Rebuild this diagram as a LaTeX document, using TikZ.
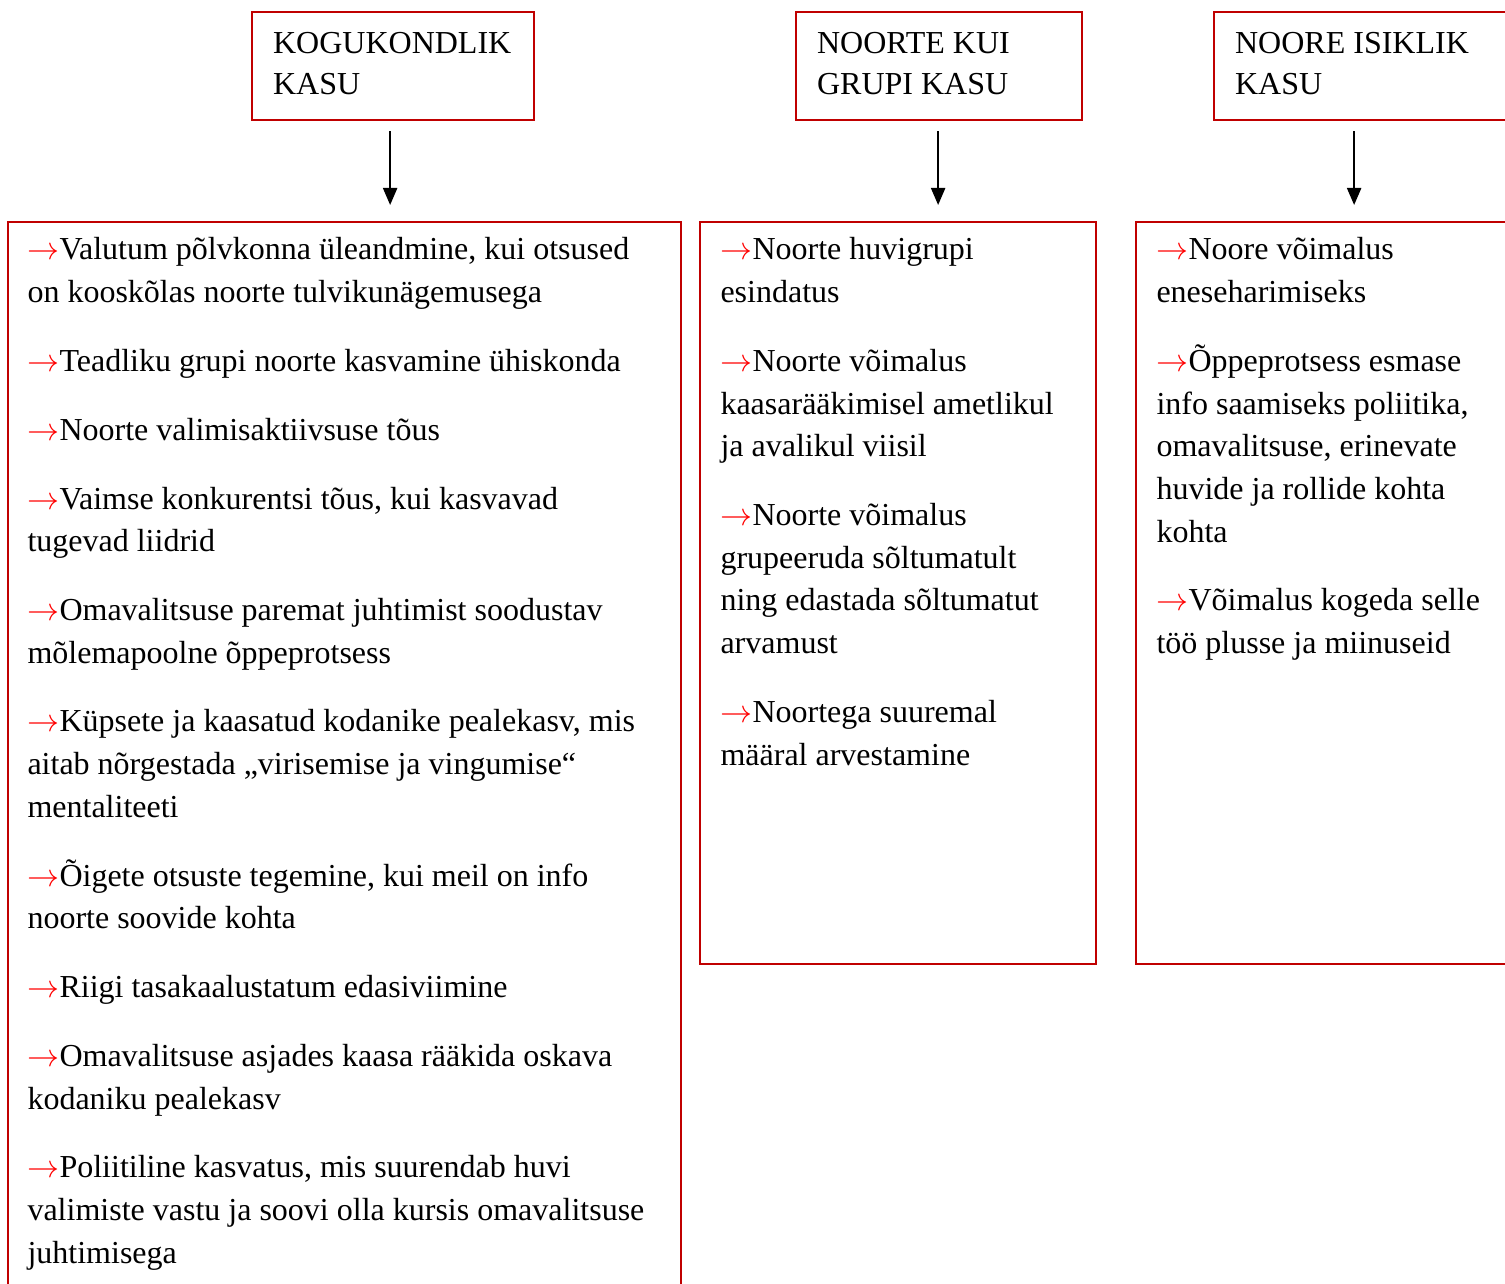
\documentclass[tikz,border=0pt]{standalone}
\usepackage{fontspec}
\setmainfont{Liberation Serif}
\usepackage{tikz}
\usetikzlibrary{positioning,arrows.meta,calc}
\usepackage{xcolor}
\definecolor{boxred}{HTML}{C00000}
\newcommand{\redarr}{\textcolor{red}{$\rightarrow$}}

\begin{document}
\begin{tikzpicture}[
  x=0.375pt, y=-0.375pt,
  head/.style={draw=boxred, line width=0.8pt, anchor=north west, align=flush left, inner xsep=7.9pt, inner ysep=0pt, minimum height=40.5pt, font=\fontsize{12pt}{15.4pt}\selectfont, execute at end node={\rule[-2.3pt]{0pt}{0pt}}},
  panel/.style={draw=boxred, line width=0.8pt, anchor=north west, inner sep=0pt},
  items/.style={anchor=base west, align=flush left, inner sep=0pt, font=\fontsize{12pt}{16pt}\selectfont},
  arr/.style={line width=0.75pt, -{Triangle[width=5.3pt,length=6.4pt]}}
]
  \clip (0,0) rectangle (1505,1284);

  % top row
  \node[head, text width=90pt] (hd1) at (251,11) {KOGUKONDLIK\\KASU};
  \node[head, text width=91.5pt] (hd2) at (795,11) {NOORTE KUI\\GRUPI KASU};
  \node[head, text width=97.5pt] (hd3) at (1213,11) {NOORE ISIKLIK\\KASU};

  % lower boxes
  \node[panel, minimum width=252.4pt, minimum height=405pt] (bx1) at (7,221) {};
  \node[panel, minimum width=148.5pt, minimum height=278.3pt] (bx2) at (699,221) {};
  \node[panel, minimum width=142.5pt, minimum height=278.3pt] (bx3) at (1135,221) {};

  \node[items, text width=250pt] (tx1) at ([shift={(20,39)}]bx1.north west) {%
    \redarr Valutum põlvkonna üleandmine, kui otsused\\ on kooskõlas noorte tulvikunägemusega\\[9.8pt]
    \redarr Teadliku grupi noorte kasvamine ühiskonda\\[9.8pt]
    \redarr Noorte valimisaktiivsuse tõus\\[9.8pt]
    \redarr Vaimse konkurentsi tõus, kui kasvavad\\ tugevad liidrid\\[9.8pt]
    \redarr Omavalitsuse paremat juhtimist soodustav\\ mõlemapoolne õppeprotsess\\[9.8pt]
    \redarr Küpsete ja kaasatud kodanike pealekasv, mis\\ aitab nõrgestada „virisemise ja vingumise“\\ mentaliteeti\\[9.8pt]
    \redarr Õigete otsuste tegemine, kui meil on info\\ noorte soovide kohta\\[9.8pt]
    \redarr Riigi tasakaalustatum edasiviimine\\[9.8pt]
    \redarr Omavalitsuse asjades kaasa rääkida oskava\\ kodaniku pealekasv\\[9.8pt]
    \redarr Poliitiline kasvatus, mis suurendab huvi\\ valimiste vastu ja soovi olla kursis omavalitsuse\\ juhtimisega};

  \node[items, text width=140pt] (tx2) at ([shift={(21,39)}]bx2.north west) {%
    \redarr Noorte huvigrupi\\ esindatus\\[9.8pt]
    \redarr Noorte võimalus\\ kaasarääkimisel ametlikul\\ ja avalikul viisil\\[9.8pt]
    \redarr Noorte võimalus\\ grupeeruda sõltumatult\\ ning edastada sõltumatut\\ arvamust\\[9.8pt]
    \redarr Noortega suuremal\\ määral arvestamine};

  \node[items, text width=130pt] (tx3) at ([shift={(21,39)}]bx3.north west) {%
    \redarr Noore võimalus\\ eneseharimiseks\\[9.8pt]
    \redarr Õppeprotsess esmase\\ info saamiseks poliitika,\\ omavalitsuse, erinevate\\ huvide ja rollide kohta\\ kohta\\[9.8pt]
    \redarr Võimalus kogeda selle\\ töö plusse ja miinuseid};

  % arrows
  \draw[arr] ($(hd1.south)+(-3,10)$) -- ($(hd1.south |- bx1.north)+(-3,-16)$);
  \draw[arr] ($(hd2.south)+(-1,10)$) -- ($(hd2.south |- bx2.north)+(-1,-16)$);
  \draw[arr] ($(hd3.south)+(-11,10)$) -- ($(hd3.south |- bx3.north)+(-11,-16)$);
\end{tikzpicture}
\end{document}
